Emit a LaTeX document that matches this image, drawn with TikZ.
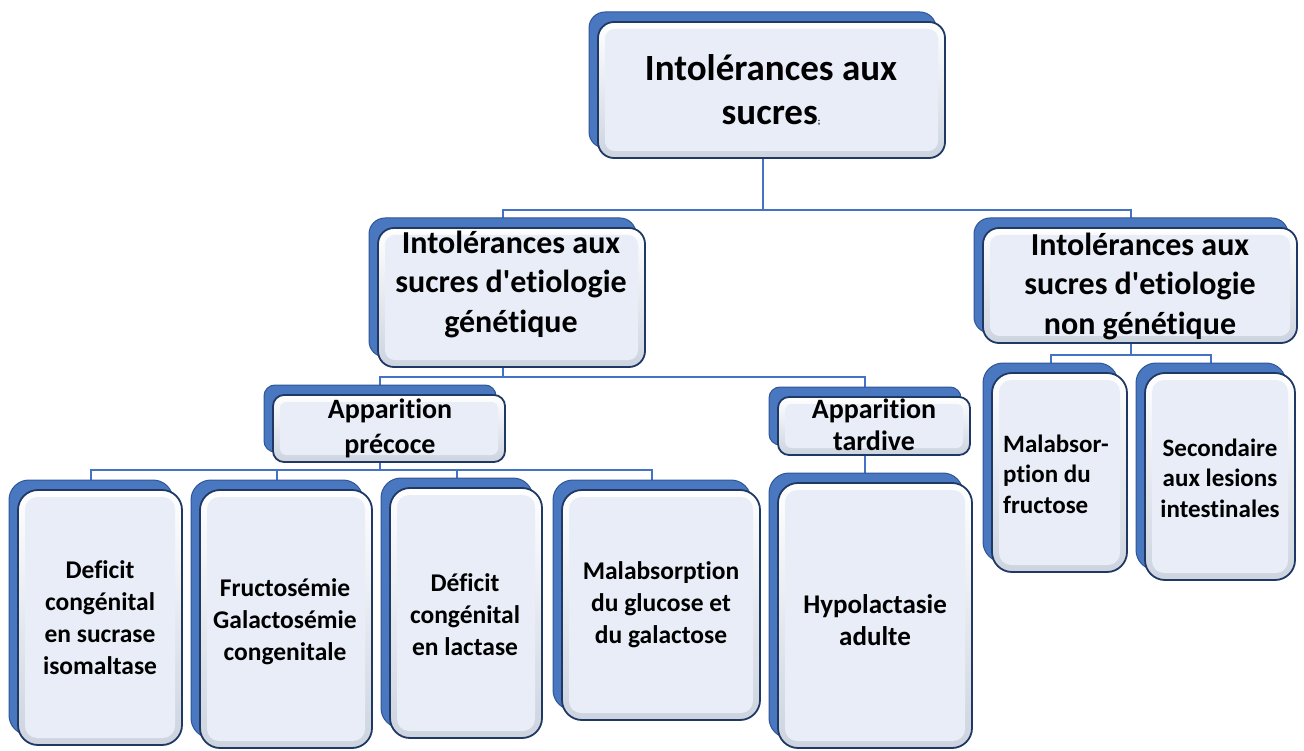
\documentclass[tikz,border=0pt]{standalone}
\usepackage{fontspec}
\setmainfont{Carlito}[Ligatures={NoCommon,TeXOff}]
\usetikzlibrary{backgrounds}
\pgfdeclarelayer{links}
\pgfdeclarelayer{faces}
\pgfsetlayers{links,faces,main}

\definecolor{backblue}{HTML}{4A78C0}
\definecolor{backedge}{HTML}{2F5597}
\definecolor{faceedge}{HTML}{203864}
\definecolor{panelblue}{HTML}{E8EDF7}
\definecolor{rimgray}{HTML}{CDD4DF}
\definecolor{linkblue}{HTML}{4472C4}

\tikzset{
  backface/.style={fill=backblue, draw=backedge, line width=1pt},
  frontface/.style={top color=white, bottom color=rimgray, draw=faceedge, line width=1.8pt},
  panel/.style={fill=panelblue},
  link/.style={draw=linkblue, line width=2pt},
  txt/.style={align=center, inner sep=0pt},
  rootfont/.style={txt, font=\bfseries\fontsize{37}{44}\selectfont},
  midfont/.style={txt, font=\bfseries\fontsize{32}{39.5}\selectfont},
  phasefont/.style={txt, font=\bfseries\fontsize{28}{35}\selectfont},
  leaffont/.style={txt, font=\bfseries\fontsize{25.5}{32}\selectfont},
  sidefont/.style={txt, font=\bfseries\fontsize{25}{30.5}\selectfont},
}

\newcommand\boxrad{15pt}
% #1 name, #2-#5 front face corners, #6-#7 text position, #8 text style, #9 text
\newcommand\tierbox[9]{%
  \begin{pgfonlayer}{faces}
    \draw[backface, rounded corners=\boxrad, shift={(-9,-10)}] (#2,#3) rectangle (#4,#5);
    \draw[frontface, rounded corners=\boxrad] (#2,#3) rectangle (#4,#5);
    \fill[panel, rounded corners=0.6*\boxrad] (#2+7,#3+7) rectangle (#4-7,#5-7);
  \end{pgfonlayer}
  \node[#8] (#1) at (#6,#7) {#9};
  \coordinate (#1-t) at ({(#2+#4)/2-9},{#3-10});
  \coordinate (#1-b) at ({(#2+#4)/2-9},{#5});
}

\begin{document}
\begin{tikzpicture}[x=1pt, y=-1pt]
  \useasboundingbox (0,0) rectangle (1304,751);

  % root
  \renewcommand\boxrad{16pt}
  \tierbox{root}{598}{22}{945}{158}{771}{90}{rootfont}
    {Intolérances aux\\sucres{\fontsize{9}{9}\selectfont;}}

  % etiology level
  \tierbox{gen}{378}{228}{645}{367}{511}{284}{midfont}
    {Intolérances aux\\sucres d'etiologie\\génétique}
  \tierbox{ngen}{983}{228}{1297}{343}{1140}{286}{midfont}
    {Intolérances aux\\sucres d'etiologie\\non génétique}

  % onset level
  \renewcommand\boxrad{11pt}
  \tierbox{early}{273}{395}{505}{462}{390}{428}{phasefont}
    {Apparition\\précoce}
  \tierbox{late}{778}{397}{970}{455}{874}{425}{phasefont, font=\bfseries\fontsize{28}{32}\selectfont}
    {Apparition\\tardive}

  % leaves
  \renewcommand\boxrad{20pt}
  \tierbox{sucr}{18}{490}{182}{745}{100}{618}{leaffont}
    {Deficit\\congénital\\en sucrase\\isomaltase}
  \tierbox{fruc}{200}{490}{372}{748}{285}{622}{leaffont}
    {Fructosémie\\Galactosémie\\congenitale}
  \tierbox{lact}{390}{488}{542}{738}{465}{615}{leaffont}
    {Déficit\\congénital\\en lactase}
  \tierbox{gluc}{562}{490}{760}{720}{661}{605}{leaffont}
    {Malabsorption\\du glucose et\\du galactose}
  \tierbox{hypo}{778}{483}{972}{748}{875}{620}{leaffont, font=\bfseries\fontsize{27}{32}\selectfont}
    {Hypolactasie\\adulte}
  \tierbox{mfru}{992}{373}{1127}{572}{1003}{474}{sidefont, anchor=west, align=left}
    {Malabsor-\\ption du\\fructose}
  \tierbox{lesi}{1145}{373}{1295}{580}{1220}{478}{sidefont}
    {Secondaire\\aux lesions\\intestinales}

  % connectors
  \begin{pgfonlayer}{links}
    \coordinate (busA) at (0,210);
    \draw[link] (root-b) -- (root-b |- busA) -| (gen-t);
    \draw[link] (root-b) -- (root-b |- busA) -| (ngen-t);
    \coordinate (busB) at (0,377);
    \draw[link] (gen-b) -- (gen-b |- busB) -| (early-t);
    \draw[link] (gen-b) -- (gen-b |- busB) -| (late-t);
    \coordinate (busC) at (0,470);
    \foreach \leaf in {sucr,fruc,lact,gluc}
      \draw[link] (early-b) -- (early-b |- busC) -| (\leaf-t);
    \draw[link] (late-b) -- (late-b |- hypo-t);
    \coordinate (busD) at (0,355);
    \draw[link] (ngen-b) -- (ngen-b |- busD) -| (mfru-t);
    \draw[link] (ngen-b) -- (ngen-b |- busD) -| (lesi-t);
  \end{pgfonlayer}
\end{tikzpicture}
\end{document}
